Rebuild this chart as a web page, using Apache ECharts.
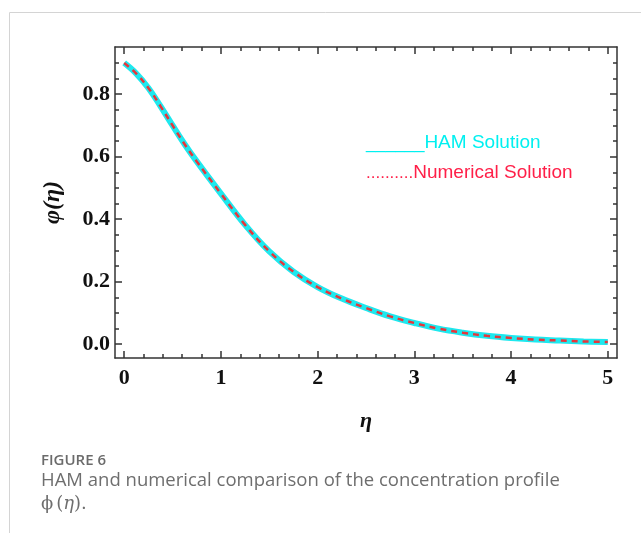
<!DOCTYPE html>
<html>
<head>
<meta charset="utf-8">
<script src="https://cdn.jsdelivr.net/npm/echarts@6/dist/echarts.min.js"></script>
<style>
  html, body { margin: 0; padding: 0; background: #fff; }
  #chart { width: 641px; height: 533px; }
</style>
</head>
<body>
<div id="chart"></div>
<script>
// eta values and the two solution curves
const eta = [0, 0.125, 0.25, 0.375, 0.5, 0.625, 0.75, 1, 1.25, 1.5, 1.75, 2, 2.25, 2.5, 2.75, 3, 3.25, 3.5, 3.75, 4, 4.25, 4.5, 4.75, 5];
const hamSolution = [0.9, 0.866, 0.82, 0.762, 0.7, 0.64, 0.585, 0.482, 0.382, 0.297, 0.232, 0.183, 0.146, 0.116, 0.089, 0.068, 0.05, 0.037, 0.027, 0.02, 0.015, 0.012, 0.009, 0.007];
const numericalSolution = [0.9, 0.866, 0.82, 0.762, 0.7, 0.64, 0.585, 0.482, 0.382, 0.297, 0.232, 0.183, 0.146, 0.116, 0.089, 0.068, 0.05, 0.037, 0.027, 0.02, 0.015, 0.012, 0.009, 0.007];

// tick positions
const xMajor = [0, 1, 2, 3, 4, 5];
const xMinor = [0.2, 0.4, 0.6, 0.8, 1.2, 1.4, 1.6, 1.8, 2.2, 2.4, 2.6, 2.8, 3.2, 3.4, 3.6, 3.8, 4.2, 4.4, 4.6, 4.8];
const yMajor = [0, 0.2, 0.4, 0.6, 0.8];
const yMinor = [0.05, 0.1, 0.15, 0.25, 0.3, 0.35, 0.45, 0.5, 0.55, 0.65, 0.7, 0.75, 0.85, 0.9];

const chart = echarts.init(document.getElementById("chart"));

const X_MIN = -0.095, X_MAX = 5.095;
const Y_MIN = -0.044, Y_MAX = 0.951;
const axisColor = "#333";
const labelFont = {
  color: "#111",
  fontFamily: "Liberation Serif",
  fontWeight: "bold",
  fontSize: 22,
};

// one axis per tick set, so major/minor ticks can have different lengths
function xAxisDef(pos, ticks, len, withLabels, withLine) {
  return {
    type: "value",
    position: pos,
    min: X_MIN,
    max: X_MAX,
    splitLine: { show: false },
    axisLine: { show: withLine, onZero: false, lineStyle: { color: axisColor, width: 1.5 } },
    axisTick: { show: true, inside: true, length: len, customValues: ticks, lineStyle: { color: axisColor, width: 1.5 } },
    axisLabel: withLabels
      ? Object.assign({ show: true, customValues: ticks, margin: 9, formatter: (v) => String(v) }, labelFont)
      : { show: false },
  };
}
function yAxisDef(pos, ticks, len, withLabels, withLine) {
  return {
    type: "value",
    position: pos,
    min: Y_MIN,
    max: Y_MAX,
    splitLine: { show: false },
    axisLine: { show: withLine, onZero: false, lineStyle: { color: axisColor, width: 1.5 } },
    axisTick: { show: true, inside: true, length: len, customValues: ticks, lineStyle: { color: axisColor, width: 1.5 } },
    axisLabel: withLabels
      ? Object.assign({ show: true, customValues: ticks, margin: 5, formatter: (v) => v.toFixed(1) }, labelFont)
      : { show: false },
  };
}

const xAxes = [
  xAxisDef("bottom", xMajor, 7, true, true),
  xAxisDef("bottom", xMinor, 4, false, false),
  xAxisDef("top", xMajor, 7, false, true),
  xAxisDef("top", xMinor, 4, false, false),
];
xAxes[0].name = "η";
xAxes[0].nameLocation = "middle";
xAxes[0].nameGap = 52;
xAxes[0].nameTextStyle = { fontFamily: "Liberation Serif", fontStyle: "italic", fontWeight: "bold", fontSize: 22, color: "#111" };

const yAxes = [
  yAxisDef("left", yMajor, 7, true, true),
  yAxisDef("left", yMinor, 4, false, false),
  yAxisDef("right", yMajor, 7, false, true),
  yAxisDef("right", yMinor, 4, false, false),
];
yAxes[0].name = "φ(η)";
yAxes[0].nameLocation = "middle";
yAxes[0].nameGap = 50;
yAxes[0].nameTextStyle = { fontFamily: "Liberation Serif", fontStyle: "italic", fontWeight: "bold", fontSize: 24, color: "#111" };

const option = {
  animation: false,
  grid: { left: 115, right: 24, top: 47, bottom: 175 },
  xAxis: xAxes,
  yAxis: yAxes,
  series: [
    {
      name: "HAM Solution",
      type: "line",
      data: eta.map((x, i) => [x, hamSolution[i]]),
      smooth: 0.4,
      showSymbol: false,
      lineStyle: { color: "#1ee8ee", width: 6 },
      z: 2,
    },
    {
      name: "Numerical Solution",
      type: "line",
      data: eta.map((x, i) => [x, numericalSolution[i]]),
      smooth: 0.4,
      showSymbol: false,
      lineStyle: { color: "#e8353a", width: 2.5, type: [6, 5] },
      z: 3,
    },
  ],
  graphic: [
    // card border
    { type: "line", shape: { x1: 9.5, y1: 12.5, x2: 641, y2: 12.5 }, style: { stroke: "#d4d4d4", lineWidth: 1 } },
    { type: "line", shape: { x1: 9.5, y1: 12.5, x2: 9.5, y2: 533 }, style: { stroke: "#d4d4d4", lineWidth: 1 } },
    // in-plot legend text
    {
      type: "text", x: 366, y: 143,
      style: {
        text: "{u|______}{t|HAM Solution}",
        verticalAlign: "middle",
        rich: {
          u: { fontFamily: "Liberation Sans", fontSize: 17.5, fill: "#00f0f0" },
          t: { fontFamily: "Liberation Sans", fontSize: 19, fill: "#00f0f0" },
        },
      },
    },
    {
      type: "text", x: 366, y: 173,
      style: {
        text: "{u|..........}{t|Numerical Solution}",
        verticalAlign: "middle",
        rich: {
          u: { fontFamily: "Liberation Sans", fontSize: 17, fill: "#ff1f48" },
          t: { fontFamily: "Liberation Sans", fontSize: 19, fill: "#ff1f48" },
        },
      },
    },
    // caption
    {
      type: "text", x: 41, y: 461,
      style: { text: "FIGURE 6", font: '600 15px "Open Sans"', fill: "#6b6b6b", verticalAlign: "middle" },
    },
    {
      type: "text", x: 41, y: 481,
      style: { text: "HAM and numerical comparison of the concentration profile", font: '18.5px "Open Sans"', fill: "#6e6e6e", verticalAlign: "middle" },
    },
    {
      type: "text", x: 41, y: 504,
      style: {
        text: "{p|ϕ}{b|(}{e|η}{b|).}",
        verticalAlign: "middle",
        rich: {
          p: { fontFamily: "DejaVu Serif", fontSize: 18, fill: "#6e6e6e", padding: [0, 3, 0, 0] },
          b: { fontFamily: "DejaVu Serif", fontSize: 18, fill: "#6e6e6e" },
          e: { fontFamily: "DejaVu Serif", fontStyle: "italic", fontSize: 18, fill: "#6e6e6e" },
        },
      },
    },
  ],
};
chart.setOption(option);
</script>
</body>
</html>
